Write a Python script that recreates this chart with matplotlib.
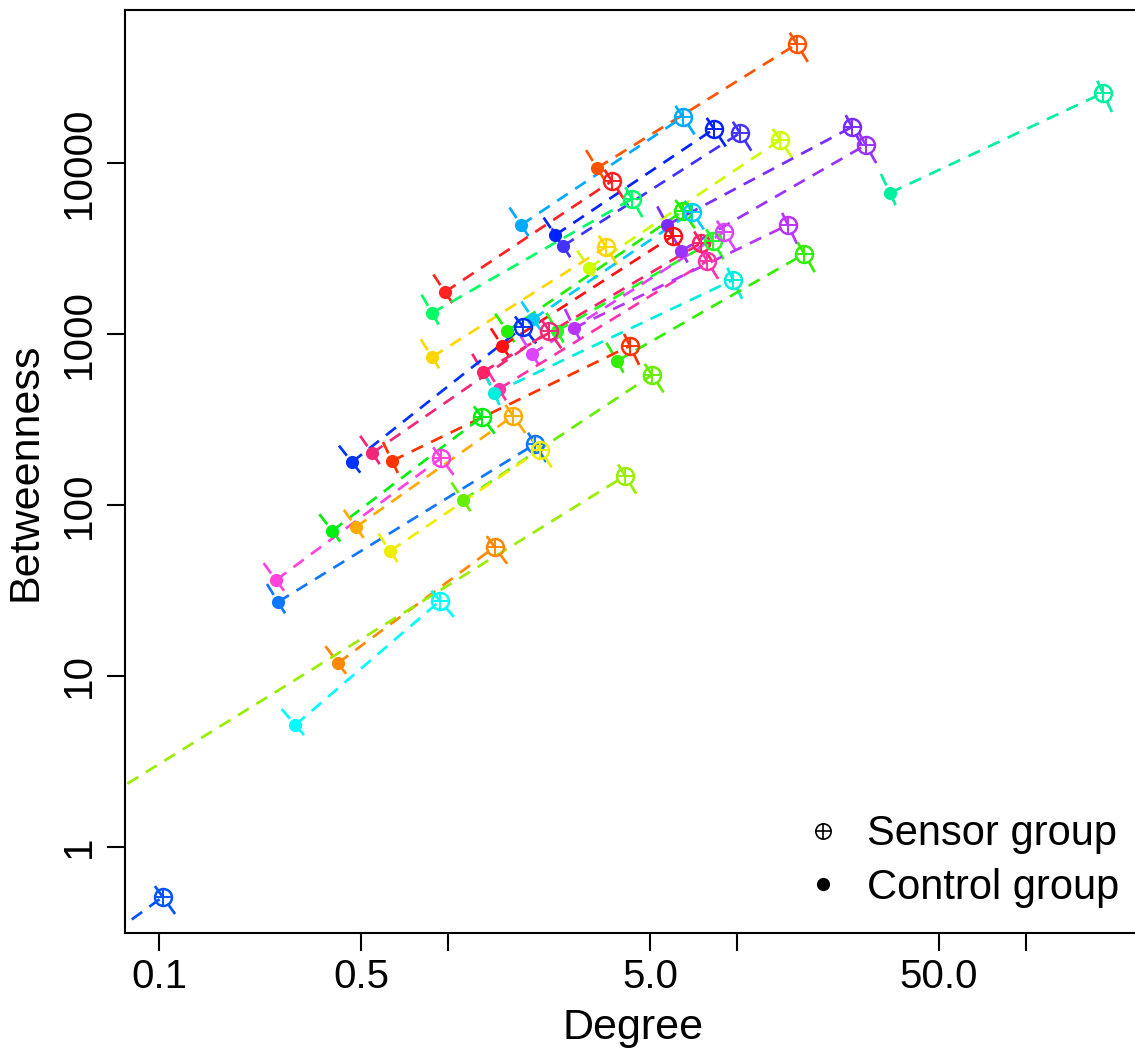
import numpy as np
import matplotlib.pyplot as plt
from matplotlib.lines import Line2D
from matplotlib.legend_handler import HandlerTuple

plt.rcParams["font.family"] = ["Liberation Sans", "DejaVu Sans"]

# one entry per node: control network -> sensor network
control_degree = [3.28, 1.79, 2.35, 2.50, 3.07, 5.73, 6.40, 33.8, 0.976, 0.880,
                  0.880, 1.60, 1.97, 1.54, 1.32, 2.38, 1.95, 1.50, 1.44, 2.73,
                  3.84, 0.640, 1.127, 0.465, 0.546, 0.397, 0.480, 0.258, 0.630, 0.254,
                  0.416, 0.05, 0.296, 0.04]
control_betweenness = [9350, 4340, 3790, 3270, 2430, 4340, 3060, 6680, 1760, 1327,
                       733, 1041, 1224, 851, 600, 1041, 764, 477, 452, 1084,
                       695, 181, 107, 178, 201, 70.5, 74.3, 27.1, 53.8, 36.4,
                       11.9, 1.48, 5.17, 0.16]
sensor_degree = [16.1, 6.50, 8.33, 10.24, 14.1, 25.0, 27.9, 184.7, 3.69, 4.33,
                 3.52, 6.50, 6.99, 6.00, 7.51, 8.26, 9.02, 7.88, 9.69, 15.0,
                 17.1, 4.26, 5.08, 1.82, 2.24, 1.31, 1.68, 2.00, 2.08, 0.946,
                 1.45, 4.10, 0.938, 0.103]
sensor_betweenness = [49600, 18580, 15810, 14970, 13630, 16240, 12750, 25650, 7850, 6160,
                      3226, 5240, 5170, 3740, 3405, 3500, 3950, 2672, 2070, 4340,
                      2937, 851, 576, 1099, 1041, 327, 332, 227, 210, 188,
                      56.8, 148, 27.5, 0.51]
pair_colors = ['#FF5500', '#00AAFF', '#0022FF', '#4433FF', '#CCFF00', '#7A2BFF', '#9A33FF',
               '#00F0A0', '#FF2222', '#00FF66', '#FFD500', '#22EE00', '#00CCFF', '#FF1111',
               '#FF2266', '#22FF22', '#DD44FF', '#FF33AA', '#00EEDD', '#BB33FF', '#33EE00',
               '#FF3300', '#66EE00', '#0033FF', '#F0287A', '#00EE11', '#FFAA00', '#1177FF',
               '#EEEE00', '#FF44DD', '#FF8800', '#99EE00', '#00FFFF', '#0055FF']

x_ticks = [0.1, 0.5, 1, 5, 10, 50, 100]
x_tick_labels = ["0.1", "0.5", "", "5.0", "", "50.0", ""]
y_ticks = [1, 10, 100, 1000, 10000]
y_tick_labels = ["1", "10", "100", "1000", "10000"]

fig = plt.figure(figsize=(11.35, 10.49), dpi=100)
ax = fig.add_axes([0.1101, 0.1106, 0.8952, 0.8799])
ax.set_xscale("log")
ax.set_yscale("log")
ax.set_xlim(0.0762, 250)
ax.set_ylim(0.314, 78500)

# 箭头: 虚线连接 + 两端平头 (像 R 的 arrows(angle=90, code=3))
HEAD = 21  # px
LW = 1.95
dash = (4.7, 3.3)
to_px = ax.transData.transform
to_data = ax.transData.inverted().transform
for cx, cy, sx, sy, col in zip(control_degree, control_betweenness,
                               sensor_degree, sensor_betweenness, pair_colors):
    p0 = to_px((cx, cy))
    p1 = to_px((sx, sy))
    d = (p1 - p0) / np.hypot(*(p1 - p0))
    n = np.array([-d[1], d[0]])
    ax.plot([cx, sx], [cy, sy], color=col, lw=LW, dashes=dash, zorder=2)
    for tip, sgn in ((p0, 1), (p1, -1)):
        head = to_data(np.array([tip + sgn * HEAD * n, tip, tip - sgn * HEAD * n]))
        ax.plot(head[:, 0], head[:, 1], color=col, lw=LW, dashes=dash, zorder=2)

for cx, cy, sx, sy, col in zip(control_degree, control_betweenness,
                               sensor_degree, sensor_betweenness, pair_colors):
    ax.plot(cx, cy, 'o', color=col, ms=9.5, mew=0, zorder=3)
    ax.plot(sx, sy, 'o', mfc='none', mec=col, ms=12.2, mew=1.8, zorder=3)
    ax.plot(sx, sy, '+', color=col, ms=12.2, mew=1.4, zorder=3)

ax.minorticks_off()
ax.set_xticks(x_ticks, x_tick_labels)
ax.set_yticks(y_ticks, y_tick_labels, rotation=90, va='center')
ax.tick_params(axis='both', length=13, width=1.5, labelsize=29, colors='black')
ax.tick_params(axis='x', pad=5)
ax.tick_params(axis='y', pad=6.5)

for side in ['left', 'top', 'bottom']:
    ax.spines[side].set_linewidth(1.5)
ax.spines['right'].set_visible(False)

ax.set_xlabel("Degree", fontsize=31, labelpad=9)
ax.set_ylabel("Betweenness", fontsize=31, labelpad=10)

h_circ = Line2D([], [], ls='none', marker='o', mfc='none', mec='black', ms=11, mew=1.2)
h_plus = Line2D([], [], ls='none', marker='+', color='black', ms=11, mew=1.2)
h_dot = Line2D([], [], ls='none', marker='o', color='black', ms=9.5, mew=0)
ax.legend([(h_circ, h_plus), h_dot], ["Sensor group", "Control group"],
          handler_map={tuple: HandlerTuple(ndivide=1)},
          loc='lower right', bbox_to_anchor=(1119 / 1135, 1 - 908 / 1049),
          bbox_transform=fig.transFigure, frameon=False, fontsize=30,
          borderpad=0, borderaxespad=0, labelspacing=0.33,
          handlelength=1.0, handletextpad=0.55)

fig.savefig("out.png", dpi=100)
